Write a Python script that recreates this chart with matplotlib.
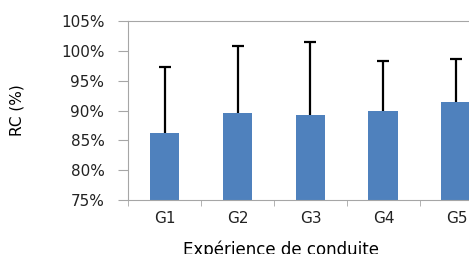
import numpy as np
import matplotlib.pyplot as plt
from matplotlib.ticker import FuncFormatter

groups = ['G1', 'G2', 'G3', 'G4', 'G5']
rc_mean = [86.2, 89.6, 89.2, 89.9, 91.4]
rc_err = [11.1, 11.2, 12.3, 8.4, 7.3]

fig = plt.figure(figsize=(4.69, 2.54), dpi=100)
ax = fig.add_axes([0.273, 0.2126, 0.778, 0.7044])

x = np.arange(len(groups))
# symmetric error bars drawn behind the bars so only the upper half shows
ax.errorbar(x, rc_mean, yerr=rc_err, fmt='none',
            ecolor='black', elinewidth=1.6, capsize=4, capthick=1.6, zorder=1)
ax.bar(x, rc_mean, width=0.41, color='#4F81BD', zorder=2)

ax.set_xlim(-0.5, len(groups) - 0.5)
ax.set_ylim(75, 105)
ax.set_yticks(np.arange(75, 106, 5))
ax.yaxis.set_major_formatter(FuncFormatter(lambda v, p: '%d%%' % v))
ax.set_xticks(x)
ax.set_xticklabels(groups)
ax.set_xticks(np.arange(-0.5, len(groups)), minor=True)

for s in ['left', 'bottom', 'top']:
    ax.spines[s].set_color('#A6A6A6')
ax.spines['right'].set_visible(False)
ax.tick_params(axis='y', which='major', direction='out', length=7, color='#A6A6A6',
               labelsize=11, labelcolor='#222222', pad=10)
ax.tick_params(axis='x', which='major', length=0, labelsize=11, labelcolor='#222222', pad=8)
ax.tick_params(axis='x', which='minor', direction='out', length=4, color='#A6A6A6')

ax.set_ylabel('RC (%)', fontsize=11)
ax.yaxis.set_label_coords(-0.285, 0.5)
ax.set_xlabel('Expérience de conduite', fontsize=12)
ax.xaxis.set_label_coords(0.42, -0.225)

fig.savefig('out.png', dpi=100)
